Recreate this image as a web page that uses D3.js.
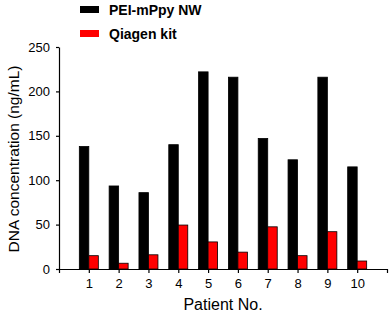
<!DOCTYPE html>
<html>
<head>
<meta charset="utf-8">
<script src="https://cdn.jsdelivr.net/npm/d3@7"></script>
<style>
  body { margin: 0; background: #fff; }
  #chart { width: 392px; height: 316px; }
  text { font-family: Arial, "Liberation Sans", sans-serif; fill: #000; }
</style>
</head>
<body>
<div id="chart"></div>
<script>
// data
const patients = ["1", "2", "3", "4", "5", "6", "7", "8", "9", "10"];
const seriesNames = ["PEI-mPpy NW", "Qiagen kit"];
const peiValues = [138, 93.5, 86, 140, 222, 216, 147, 123, 216, 115];
const qiagenValues = [15, 6.5, 16, 49.5, 30.5, 19, 47.5, 15, 42, 9];
const yTicks = [0, 50, 100, 150, 200, 250];
const colors = ["#000000", "#ff0000"];

const parent = document.getElementById("chart"),
      svg = d3.select(parent).append("svg"),
      svgWidth = 392,
      svgHeight = 316;

svg.attr("width", svgWidth).attr("height", svgHeight);

const margin = {top: 47, right: 5, bottom: 47, left: 59},
      width = svgWidth - margin.left - margin.right,
      height = svgHeight - margin.top - margin.bottom;

const g = svg.append("g")
    .attr("transform", "translate(" + margin.left + "," + margin.top + ")");

// scales
const x = d3.scalePoint()
    .domain(patients)
    .range([0, width])
    .padding(1);

const xSub = d3.scaleBand()
    .domain(seriesNames)
    .range([-9.5, 9.5])
    .padding(0);

const y = d3.scaleLinear()
    .domain([0, 250])
    .range([height, 0]);

// bars
const rows = patients.map((p, i) => ({
    patient: p,
    values: [peiValues[i], qiagenValues[i]]
}));

const groups = g.selectAll(".group")
    .data(rows)
    .join("g")
    .attr("class", "group")
    .attr("transform", d => "translate(" + x(d.patient) + ",0)");

groups.selectAll("rect")
    .data(d => d.values.map((v, k) => ({key: seriesNames[k], value: v, k: k})))
    .join("rect")
    .attr("x", d => xSub(d.key))
    .attr("y", d => y(d.value))
    .attr("width", xSub.bandwidth())
    .attr("height", d => y(0) - y(d.value))
    .attr("fill", d => colors[d.k])
    .attr("stroke", "#000")
    .attr("stroke-width", 0.8);

// X axis
const xAxis = g.append("g")
    .attr("transform", "translate(0," + height + ")")
    .call(d3.axisBottom(x).tickSize(4).tickSizeOuter(4).tickPadding(6));
xAxis.selectAll("text").style("font-size", "13px");

// Y axis
const yAxis = g.append("g")
    .call(d3.axisLeft(y).tickValues(yTicks).tickSize(3).tickSizeOuter(0).tickPadding(6));
yAxis.selectAll("text").style("font-size", "13px");

g.selectAll(".domain, .tick line").attr("stroke", "#000").attr("stroke-width", 1.2);

// axis titles
svg.append("text")
    .attr("x", margin.left + width / 2)
    .attr("y", 310)
    .attr("text-anchor", "middle")
    .style("font-size", "16px")
    .text("Patient No.");

svg.append("text")
    .attr("transform", "translate(19,159) rotate(-90)")
    .attr("text-anchor", "middle")
    .style("font-size", "15.5px")
    .text("DNA concentration (ng/mL)");

// legend
const legend = svg.append("g").attr("transform", "translate(80,6)");
seriesNames.forEach((name, i) => {
    const row = legend.append("g").attr("transform", "translate(0," + (i * 24) + ")");
    row.append("rect")
        .attr("width", 19)
        .attr("height", 7)
        .attr("fill", colors[i]);
    row.append("text")
        .attr("x", 29)
        .attr("y", 8.5)
        .style("font-size", "14px")
        .style("font-weight", "bold")
        .text(name);
});
</script>
</body>
</html>
